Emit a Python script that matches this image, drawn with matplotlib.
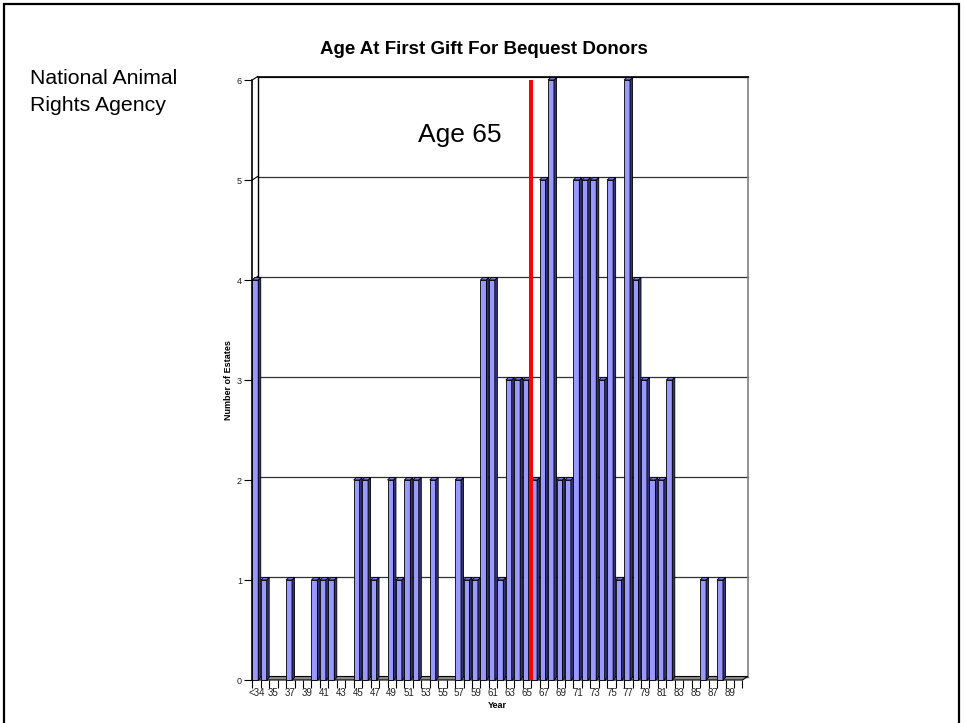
import matplotlib.pyplot as plt
from matplotlib.patches import Polygon, Rectangle

plt.rcParams['font.family'] = ['Liberation Sans', 'DejaVu Sans']

# estates per age at first gift
ages = ['<34'] + [str(a) for a in range(34, 91)]
estates = [4, 1, 0, 0, 1, 0, 0, 1, 1, 1,
           0, 0, 2, 2, 1, 0, 2, 1, 2, 2,
           0, 2, 0, 0, 2, 1, 1, 4, 4, 1,
           3, 3, 3, 2, 5, 6, 2, 2, 5, 5,
           5, 3, 5, 1, 6, 4, 3, 2, 2, 3,
           0, 0, 0, 1, 0, 1, 0, 0]
marker_age = '65'
ymax = 6

fig = plt.figure(figsize=(9.64, 7.23), dpi=100)
ax = fig.add_axes([252.3 / 964, 43 / 723, 490.1 / 964, 600 / 723])
n = len(ages)
ax.set_xlim(0, n)
ax.set_ylim(0, ymax)
for s in ax.spines.values():
    s.set_visible(False)

# pseudo-3d offsets (walls and bars)
wx, wy = 0.63, 0.035
bw, bx, by = 0.70, 0.30, 0.025

# back wall gridlines + left wall
for v in range(ymax + 1):
    ax.plot([wx, n + wx], [v + wy, v + wy], color='#303030', lw=0.9, zorder=1, clip_on=False)
    ax.plot([0, wx], [v, v + wy], color='black', lw=0.8, zorder=1, clip_on=False)
ax.plot([0, 0], [0, ymax], color='black', lw=1.2, zorder=4, clip_on=False)
ax.plot([wx, wx], [wy, ymax + wy], color='black', lw=1.0, zorder=1, clip_on=False)
ax.plot([n + wx, n + wx], [wy, ymax + wy], color='#808080', lw=1.2, zorder=1, clip_on=False)
ax.plot([wx, n + wx], [ymax + wy, ymax + wy], color='black', lw=1.2, zorder=1, clip_on=False)

# floor
ax.add_patch(Polygon([(0, 0), (n, 0), (n + wx, wy), (wx, wy)], closed=True,
                     facecolor='#8c8c8c', edgecolor='black', lw=0.8, zorder=2, clip_on=False))

for i, v in enumerate(estates):
    if v == 0:
        continue
    ax.add_patch(Rectangle((i, 0), bw, v, facecolor='#9999ff', edgecolor='black',
                           lw=0.6, zorder=3, clip_on=False))
    ax.add_patch(Polygon([(i + bw, 0), (i + bw + bx, by), (i + bw + bx, v + by), (i + bw, v)],
                         closed=True, facecolor='#33337a', edgecolor='black', lw=0.6,
                         zorder=3, clip_on=False))
    ax.add_patch(Polygon([(i, v), (i + bx, v + by), (i + bw + bx, v + by), (i + bw, v)],
                         closed=True, facecolor='#7777dd', edgecolor='black', lw=0.6,
                         zorder=3, clip_on=False))

# age 65 marker
xm = ages.index(marker_age) + 1
ax.plot([xm, xm], [0, ymax], color='#ff0000', lw=2.9, zorder=5, solid_capstyle='butt')
ax.text(19.6, 5.38, 'Age 65', fontsize=19, ha='left', va='baseline', zorder=6)

ax.set_xticks(range(n + 1))
ax.set_xticklabels([])
ax.set_xticks([i + 0.5 for i in range(0, n, 2)], minor=True)
ax.set_xticklabels(ages[::2], minor=True, fontsize=7, color='#202020')
ax.tick_params(axis='x', which='major', length=5.5, width=0.8, color='black')
ax.tick_params(axis='x', which='minor', length=0, pad=5.5)
ax.set_yticks(range(ymax + 1))
ax.tick_params(axis='y', length=5.5, width=0.8, labelsize=6.5, pad=2, color='black',
               labelcolor='#202020')
ax.set_xlabel('Year', fontsize=6.5, fontweight='bold', labelpad=2.5)
ax.set_ylabel('Number of Estates', fontsize=6.5, fontweight='bold', labelpad=3)

fig.text(484 / 964, 1 - 54 / 723, 'Age At First Gift For Bequest Donors',
         fontsize=13.5, fontweight='bold', ha='center', va='baseline')
fig.text(30 / 964, 1 - 84 / 723, 'National Animal', fontsize=15.3, va='baseline')
fig.text(30 / 964, 1 - 111 / 723, 'Rights Agency', fontsize=15.3, va='baseline')

fig.patches.append(Rectangle((4 / 964, -0.1), 955 / 964, 1.1 - 4 / 723, transform=fig.transFigure,
                             fill=False, edgecolor='black', lw=1.6))

fig.savefig('out.png', dpi=100)
